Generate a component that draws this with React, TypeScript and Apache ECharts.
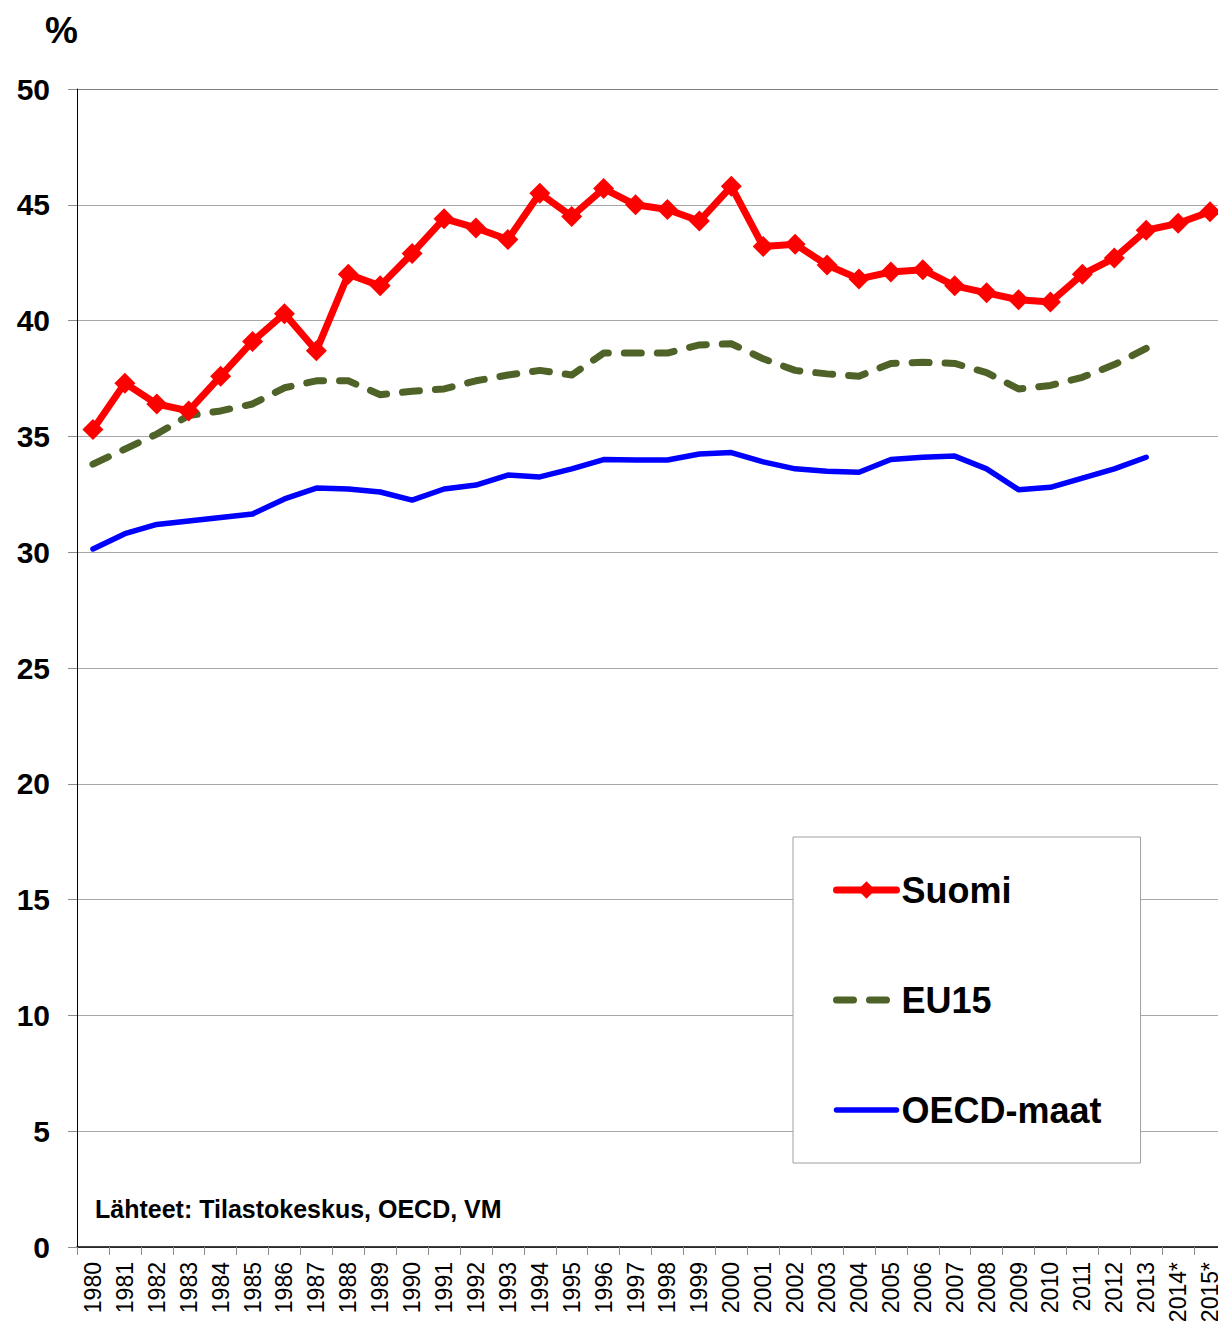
import React, { useEffect, useRef } from "react";
import * as echarts from "echarts";

const years = [
  "1980", "1981", "1982", "1983", "1984", "1985", "1986", "1987", "1988", "1989",
  "1990", "1991", "1992", "1993", "1994", "1995", "1996", "1997", "1998", "1999",
  "2000", "2001", "2002", "2003", "2004", "2005", "2006", "2007", "2008", "2009",
  "2010", "2011", "2012", "2013", "2014*", "2015*",
];

const suomi = [
  35.3, 37.3, 36.4, 36.1, 37.6, 39.1, 40.3, 38.7, 42.0, 41.5,
  42.9, 44.4, 44.0, 43.5, 45.5, 44.5, 45.7, 45.0, 44.8, 44.3,
  45.8, 43.2, 43.3, 42.4, 41.8, 42.1, 42.2, 41.5, 41.2, 40.9,
  40.8, 42.0, 42.7, 43.9, 44.2, 44.7,
];

const eu15 = [
  33.8, 34.45, 35.1, 35.9, 36.1, 36.4, 37.1, 37.4, 37.4, 36.8,
  36.95, 37.05, 37.4, 37.65, 37.85, 37.65, 38.6, 38.6, 38.6, 38.95,
  39.0, 38.35, 37.85, 37.7, 37.6, 38.15, 38.2, 38.15, 37.75, 37.05,
  37.2, 37.55, 38.1, 38.8, null, null,
];

const oecd = [
  30.14, 30.8, 31.2, 31.35, 31.5, 31.65, 32.3, 32.77, 32.73, 32.6,
  32.25, 32.73, 32.9, 33.33, 33.25, 33.6, 34.0, 33.98, 33.98, 34.24,
  34.3, 33.9, 33.6, 33.5, 33.45, 34.0, 34.1, 34.15, 33.6, 32.7,
  32.8, 33.2, 33.6, 34.1, null, null,
];

const yTicks = { min: 0, max: 50, interval: 5 };
const seriesNames = ["Suomi", "EU15", "OECD-maat"];
const unitLabel = "%";
const sourceLabel = "Lähteet: Tilastokeskus, OECD, VM";

const FONT = "Arial, 'Liberation Sans', Helvetica, sans-serif";

export default function App() {
  const ref = useRef<HTMLDivElement>(null);

  useEffect(() => {
    if (!ref.current) return;
    const chart = echarts.init(ref.current, null, { renderer: "svg" });
    const splitColors = [];
    for (let i = 0; i < 10; i++) splitColors.push("#a8a8a8");
    splitColors.push("#7f7f7f");

    const hiddenSymbol = { color: "rgba(0,0,0,0)", opacity: 0, borderWidth: 0 };

    chart.setOption({
      animation: false,
      backgroundColor: "#ffffff",
      textStyle: { fontFamily: FONT },
      grid: {
        left: 77,
        width: 1149,
        top: 89,
        bottom: 78,
        containLabel: false,
        outerBoundsMode: "none",
      },
      legend: {
        orient: "vertical",
        left: 793,
        top: 837,
        data: [
          { name: seriesNames[0] },
          { name: seriesNames[1], itemStyle: hiddenSymbol },
          { name: seriesNames[2], itemStyle: hiddenSymbol },
        ],
        padding: [35, 39, 35, 40],
        itemGap: 74,
        itemWidth: 60,
        itemHeight: 22,
        borderColor: "#a0a0a0",
        borderWidth: 1,
        backgroundColor: "#ffffff",
        lineStyle: { width: "inherit", type: "inherit", cap: "inherit" },
        textStyle: {
          fontSize: 36,
          fontWeight: "bold",
          color: "#000000",
          fontFamily: FONT,
          lineHeight: 36,
        },
      },
      xAxis: {
        type: "category",
        data: years,
        boundaryGap: true,
        axisLine: { show: true, lineStyle: { color: "#000000", width: 1.5 } },
        axisTick: {
          show: true,
          interval: 0,
          length: 8,
          lineStyle: { color: "#8c8c8c", width: 1 },
        },
        axisLabel: {
          interval: 0,
          rotate: 90,
          fontSize: 23,
          color: "#000000",
          margin: 15,
          fontFamily: FONT,
          hideOverlap: false,
        },
        splitLine: { show: false },
      },
      yAxis: {
        type: "value",
        min: yTicks.min,
        max: yTicks.max,
        interval: yTicks.interval,
        axisLine: { show: true, lineStyle: { color: "#000000", width: 1 } },
        axisTick: {
          show: true,
          length: 9,
          lineStyle: { color: "#8c8c8c", width: 1 },
        },
        axisLabel: {
          fontSize: 30,
          fontWeight: "bold",
          color: "#000000",
          margin: 27,
          fontFamily: FONT,
        },
        splitLine: {
          show: true,
          lineStyle: { color: splitColors, width: 1 },
        },
      },
      graphic: [
        {
          type: "text",
          left: 45,
          top: 12,
          style: {
            text: unitLabel,
            font: "bold 37px " + FONT,
            fill: "#000000",
          },
        },
        {
          type: "text",
          left: 95,
          top: 1196,
          style: {
            text: sourceLabel,
            font: "bold 25px " + FONT,
            fill: "#000000",
          },
        },
      ],
      series: [
        {
          name: "OECD-maat",
          type: "line",
          data: oecd,
          showSymbol: false,
          symbol: "none",
          connectNulls: false,
          lineStyle: { color: "#0000ff", width: 5.5, cap: "round", join: "round" },
          itemStyle: { color: "#0000ff" },
          z: 2,
        },
        {
          name: "EU15",
          type: "line",
          data: eu15,
          showSymbol: false,
          symbol: "none",
          connectNulls: false,
          lineStyle: {
            color: "#4f6228",
            width: 7,
            type: [17, 16],
            cap: "round",
            join: "round",
          },
          itemStyle: { color: "#4f6228" },
          z: 3,
        },
        {
          name: "Suomi",
          type: "line",
          data: suomi,
          symbol: "diamond",
          symbolSize: 21,
          showSymbol: true,
          lineStyle: { color: "#ff0000", width: 7, cap: "round", join: "round" },
          itemStyle: { color: "#ff0000", borderWidth: 0 },
          z: 4,
        },
      ],
    });

    return () => chart.dispose();
  }, []);

  return (
    <div
      ref={ref}
      style={{ position: "absolute", left: 0, top: 0, width: 1218, height: 1325 }}
    />
  );
}
